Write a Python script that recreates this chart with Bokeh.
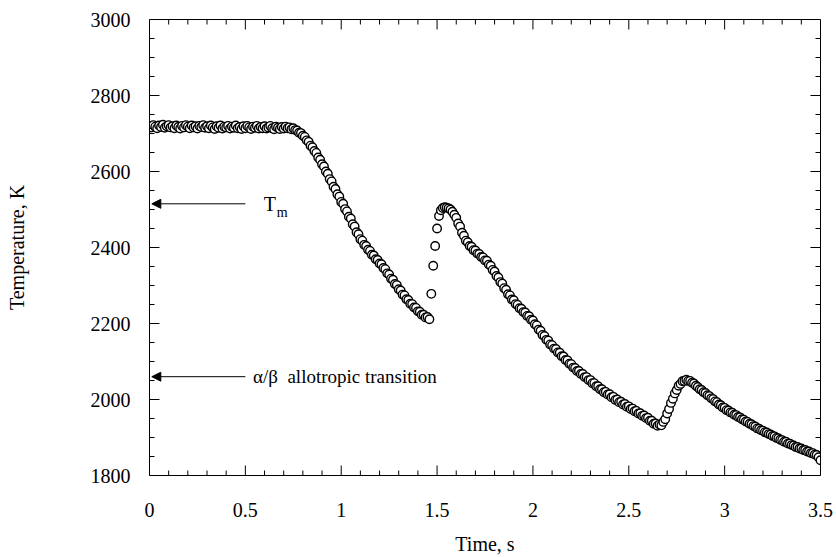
from bokeh.plotting import figure
from bokeh.models import (ColumnDataSource, SingleIntervalTicker, LinearAxis,
                          Range1d, Arrow, NormalHead, Label, CustomJSTickFormatter)
from bokeh.embed import file_html
from bokeh.resources import INLINE

# ---------------- data ----------------
# pyrometer samples, one every 0.01 s from 0.00 s to 3.50 s
sample_interval_s = 0.01
temperature_K = [
    # 0.00 - 0.09
    2720, 2716, 2722, 2718, 2714, 2721, 2717, 2723, 2715, 2719,
    # 0.10 - 0.19
    2722, 2716, 2719, 2714, 2721, 2717, 2713, 2720, 2716, 2722,
    # 0.20 - 0.29
    2718, 2714, 2721, 2716, 2719, 2713, 2720, 2717, 2722, 2715,
    # 0.30 - 0.39
    2719, 2714, 2721, 2716, 2712, 2719, 2715, 2721, 2713, 2718,
    # 0.40 - 0.49
    2716, 2720, 2713, 2718, 2715, 2721, 2714, 2717, 2712, 2719,
    # 0.50 - 0.59
    2714, 2720, 2716, 2712, 2718, 2715, 2720, 2713, 2717, 2714,
    # 0.60 - 0.69
    2719, 2713, 2716, 2720, 2714, 2711, 2718, 2715, 2712, 2717,
    # 0.70 - 0.79
    2713, 2718, 2714, 2716, 2711, 2714, 2709, 2708, 2702, 2701,
    # 0.80 - 0.89
    2694, 2691, 2682, 2678, 2668, 2664, 2654, 2649, 2637, 2631,
    # 0.90 - 0.99
    2619, 2613, 2600, 2594, 2580, 2574, 2560, 2554, 2540, 2534,
    # 1.00 - 1.09
    2520, 2515, 2501, 2495, 2481, 2476, 2461, 2455, 2440, 2435,
    # 1.10 - 1.19
    2422, 2418, 2407, 2404, 2394, 2391, 2381, 2379, 2369, 2367,
    # 1.20 - 1.29
    2358, 2356, 2346, 2343, 2332, 2329, 2318, 2315, 2304, 2301,
    # 1.30 - 1.39
    2290, 2287, 2276, 2274, 2264, 2262, 2252, 2251, 2242, 2241,
    # 1.40 - 1.49
    2232, 2231, 2223, 2223, 2216, 2217, 2211, 2278, 2352, 2404,
    # 1.50 - 1.59
    2450, 2483, 2498, 2504, 2506, 2505, 2503, 2500, 2494, 2486,
    # 1.60 - 1.69
    2478, 2463, 2455, 2439, 2431, 2418, 2414, 2404, 2402, 2393,
    # 1.70 - 1.79
    2392, 2384, 2383, 2375, 2374, 2366, 2365, 2355, 2352, 2341,
    # 1.80 - 1.89
    2337, 2325, 2321, 2309, 2305, 2293, 2289, 2277, 2274, 2263,
    # 1.90 - 1.99
    2261, 2251, 2249, 2240, 2239, 2230, 2229, 2220, 2219, 2210,
    # 2.00 - 2.09
    2208, 2198, 2195, 2184, 2181, 2170, 2167, 2157, 2155, 2145,
    # 2.10 - 2.19
    2143, 2134, 2133, 2124, 2123, 2114, 2113, 2104, 2103, 2094,
    # 2.20 - 2.29
    2093, 2084, 2083, 2075, 2075, 2067, 2067, 2059, 2059, 2051,
    # 2.30 - 2.39
    2051, 2043, 2043, 2035, 2035, 2027, 2027, 2019, 2020, 2013,
    # 2.40 - 2.49
    2014, 2006, 2007, 1999, 2000, 1993, 1994, 1987, 1988, 1981,
    # 2.50 - 2.59
    1982, 1975, 1976, 1969, 1970, 1963, 1964, 1957, 1958, 1951,
    # 2.60 - 2.69
    1952, 1944, 1944, 1936, 1937, 1931, 1934, 1932, 1941, 1948,
    # 2.70 - 2.79
    1963, 1975, 1991, 2002, 2016, 2025, 2036, 2041, 2048, 2049,
    # 2.80 - 2.89
    2052, 2049, 2049, 2044, 2042, 2036, 2033, 2027, 2025, 2019,
    # 2.90 - 2.99
    2017, 2011, 2009, 2003, 2001, 1995, 1993, 1987, 1985, 1979,
    # 3.00 - 3.09
    1978, 1972, 1971, 1966, 1965, 1960, 1959, 1954, 1953, 1948,
    # 3.10 - 3.19
    1947, 1942, 1941, 1936, 1935, 1930, 1929, 1924, 1923, 1919,
    # 3.20 - 3.29
    1918, 1914, 1913, 1909, 1908, 1904, 1903, 1899, 1898, 1894,
    # 3.30 - 3.39
    1893, 1889, 1889, 1884, 1884, 1880, 1879, 1875, 1875, 1871,
    # 3.40 - 3.49
    1871, 1867, 1867, 1863, 1863, 1859, 1859, 1855, 1854, 1848,
    # 3.50
    1840,
]
time_s = [round(i * sample_interval_s, 2) for i in range(len(temperature_K))]

x_ticks = [0, 0.5, 1, 1.5, 2, 2.5, 3, 3.5]
x_tick_labels = ["0", "0.5", "1", "1.5", "2", "2.5", "3", "3.5"]
y_ticks = [1800, 2000, 2200, 2400, 2600, 2800, 3000]
y_tick_labels = ["1800", "2000", "2200", "2400", "2600", "2800", "3000"]

# reference temperatures marked by arrows on the left
melting_point_K = 2515
allotropic_transition_K = 2060

# ---------------- figure ----------------
FONT = "Liberation Serif"
X0, X1 = x_ticks[0], x_ticks[-1]
Y0, Y1 = y_ticks[0], y_ticks[-1]

p = figure(width=836, height=557, output_backend="svg", toolbar_location=None,
           x_range=Range1d(X0, X1), y_range=Range1d(Y0, Y1),
           min_border_left=149, min_border_right=16,
           min_border_top=19, min_border_bottom=80,
           background_fill_color="white", border_fill_color="white")
p.grid.visible = False
p.outline_line_color = None

def x_ticker():
    return SingleIntervalTicker(interval=0.5, num_minor_ticks=5)

def y_ticker():
    return SingleIntervalTicker(interval=200, num_minor_ticks=4)

def style_axis(ax):
    ax.axis_line_color = "black"
    ax.axis_line_width = 1
    ax.major_tick_in = 0
    ax.major_tick_out = 0
    ax.minor_tick_in = 0
    ax.minor_tick_out = 0
    ax.major_label_text_font = FONT
    ax.major_label_text_font_size = "20px"
    ax.major_label_text_color = "black"
    ax.axis_label_text_font = FONT
    ax.axis_label_text_font_size = "20px"
    ax.axis_label_text_font_style = "normal"
    ax.axis_label_text_color = "black"

xa = p.xaxis[0]
xa.ticker = x_ticker()
xa.major_label_overrides = {t: s for t, s in zip(x_ticks, x_tick_labels)}
style_axis(xa)
xa.axis_label = "Time, s"
xa.major_label_standoff = 27
xa.axis_label_standoff = 13

ya = p.yaxis[0]
ya.ticker = y_ticker()
ya.major_label_overrides = {t: s for t, s in zip(y_ticks, y_tick_labels)}
style_axis(ya)
ya.axis_label = "Temperature, K"
ya.major_label_standoff = 19
ya.axis_label_standoff = 60

blank = "return ''"
top = LinearAxis(ticker=x_ticker(), formatter=CustomJSTickFormatter(code=blank))
right = LinearAxis(ticker=y_ticker(), formatter=CustomJSTickFormatter(code=blank))
for ax in (top, right):
    style_axis(ax)
    ax.major_label_standoff = 0
p.add_layout(top, "above")
p.add_layout(right, "right")

# inward ticks on all four sides (drawn as screen-length rays from the frame edges)
x_minor = [round(0.1 * i, 1) for i in range(36) if i % 5]
y_minor = [Y0 + 50 * i for i in range(25) if i % 4]
tick_style = dict(length_units="screen", angle_units="deg", line_color="black", line_width=1)
for xs, L in ((x_ticks, 10), (x_minor, 5)):
    p.ray(x=xs, y=[Y0] * len(xs), length=L, angle=90, **tick_style)
    p.ray(x=xs, y=[Y1] * len(xs), length=L, angle=-90, **tick_style)
for ys, L in ((y_ticks, 10), (y_minor, 5)):
    p.ray(x=[X0] * len(ys), y=ys, length=L, angle=0, **tick_style)
    p.ray(x=[X1] * len(ys), y=ys, length=L, angle=180, **tick_style)

src = ColumnDataSource(dict(t=time_s, T=temperature_K))
p.scatter(x="t", y="T", source=src, marker="circle", size=8.5,
          fill_color="white", line_color="black", line_width=1.4)

# ---------------- annotations ----------------
for temp in (melting_point_K, allotropic_transition_K):
    p.add_layout(Arrow(start=None,
                       end=NormalHead(size=9, fill_color="black", line_color="black", line_width=1),
                       x_start=0.5, y_start=temp, x_end=0.012, y_end=temp,
                       line_color="black", line_width=1))

p.add_layout(Label(x=0.596, y=melting_point_K, text="T", text_font=FONT,
                   text_font_size="20px", text_baseline="middle", text_color="black"))
p.add_layout(Label(x=0.596, y=melting_point_K, x_offset=13, y_offset=-9, text="m",
                   text_font=FONT, text_font_size="14px", text_baseline="middle",
                   text_color="black"))
p.add_layout(Label(x=0.54, y=allotropic_transition_K,
                   text="\u03b1/\u03b2\u00a0\u00a0allotropic transition",
                   text_font=FONT, text_font_size="19px", text_baseline="middle",
                   text_color="black"))

open("out.html", "w").write(file_html(p, INLINE))
